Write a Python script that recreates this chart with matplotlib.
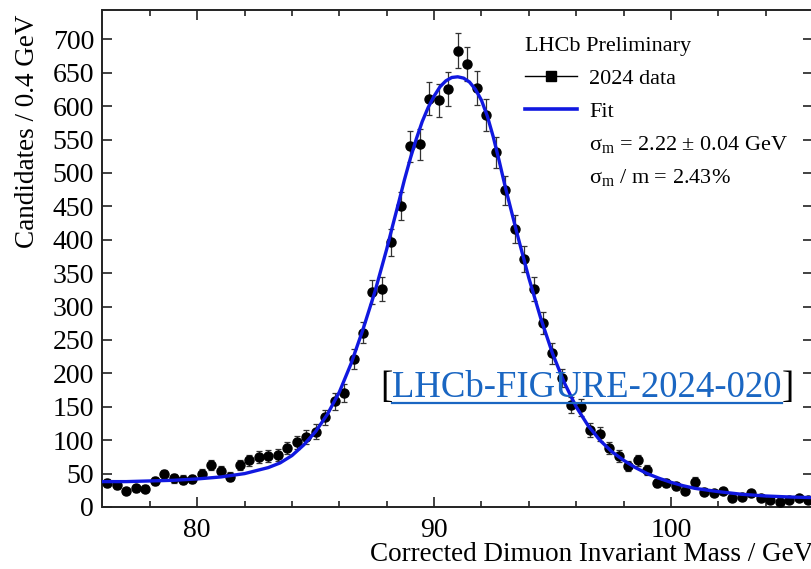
import numpy as np
import matplotlib
matplotlib.use("Agg")
import matplotlib.pyplot as plt
from matplotlib.lines import Line2D

plt.rcParams['font.family'] = ['Liberation Serif', 'DejaVu Serif']
plt.rcParams['mathtext.fontset'] = 'custom'
plt.rcParams['mathtext.rm'] = 'Liberation Serif'
plt.rcParams['mathtext.it'] = 'Liberation Serif:italic'

# ---- data ----
bin_width = 0.4
mass_lo = 76.0
counts = [36, 33, 24, 28, 27, 39, 49, 43, 41, 42,
          50, 63, 54, 45, 63, 70, 75, 76, 78, 88,
          97, 105, 113, 134, 158,
          171, 221, 261, 322, 326, 396, 451, 540, 543, 611,
          609, 626, 683, 663, 627, 587, 531, 474, 416, 371,
          326, 275, 230, 193, 153,
          149, 115, 110, 88, 76, 61, 70, 55, 36, 36,
          31, 24, 38, 23, 21, 24, 13, 15, 21, 14,
          10, 8, 10, 13, 10]
errors = [6.0, 5.7, 4.9, 5.3, 5.2, 6.2, 7.0, 6.6, 6.4, 6.5,
          7.1, 7.9, 7.3, 6.7, 7.9, 8.4, 8.7, 8.7, 8.8, 9.4,
          9.8, 10.2, 10.6, 11.6, 12.6,
          13.1, 14.9, 16.2, 17.9, 18.1, 19.9, 21.2, 23.2, 23.3, 24.7,
          24.7, 25.0, 26.1, 25.7, 25.0, 24.2, 23.0, 21.8, 20.4, 19.3,
          18.1, 16.6, 15.2, 13.9, 12.4,
          12.2, 10.7, 10.5, 9.4, 8.7, 7.8, 8.4, 7.4, 6.0, 6.0,
          5.6, 4.9, 6.2, 4.8, 4.6, 4.9, 3.6, 3.9, 4.6, 3.7,
          3.2, 2.8, 3.2, 3.6, 3.2]
mass = mass_lo + bin_width * (np.arange(len(counts)) + 0.5)

fit_x = [76.0, 77.0, 78.0, 79.0, 80.0, 81.0, 82.0, 83.0, 83.5, 84.0,
         84.5, 85.0, 85.5, 86.0, 86.5, 87.0, 87.5, 88.0, 88.25, 88.5,
         88.75, 89.0, 89.25, 89.5, 89.75, 90.0, 90.25, 90.5, 90.75, 91.0,
         91.25, 91.5, 91.75, 92.0, 92.25, 92.5, 92.75, 93.0, 93.25, 93.5,
         94.0, 94.5, 95.0, 95.5, 96.0, 96.5, 97.0, 97.5, 98.0, 98.5,
         99.0, 99.5, 100.0, 100.5, 101.0, 102.0, 103.0, 104.0, 105.0, 106.0]
fit_y = [38, 38, 39, 40, 42, 45, 50, 59, 66, 77,
         93, 113, 139, 172, 215, 266, 322, 386, 421, 455,
         490, 522, 551, 577, 598, 615, 629, 638, 643, 644,
         642, 636, 625, 609, 585, 554, 518, 480, 445, 410,
         343, 283, 230, 186, 150, 122, 100, 83, 70, 59,
         50, 43, 37, 32, 28, 23, 19, 16.5, 15, 14]

x_ticks = [80, 90, 100]
y_ticks = [0, 50, 100, 150, 200, 250, 300, 350, 400, 450, 500, 550, 600, 650, 700]

# ---- figure ----
fig = plt.figure(figsize=(8.12, 5.69), dpi=100)
ax = fig.add_axes([102.5 / 812, 1 - 507 / 569, (813 - 102.5) / 812, (507 - 10) / 569])

ax.errorbar(mass, counts, yerr=errors, fmt='o', color='black', ms=6.5,
            ecolor='#333333', elinewidth=0.9, capsize=2.5, capthick=0.9, zorder=3)
ax.plot(fit_x, fit_y, color='#1018e0', lw=2.4, zorder=4)

ax.set_xlim(76, 106)
ax.set_ylim(0, 744)
ax.set_xticks(x_ticks)
ax.set_xticks(np.arange(78, 106, 2), minor=True)
ax.set_yticks(y_ticks)
ax.tick_params(axis='both', which='both', direction='in', top=True, right=True,
               labelsize=20, width=1.2, color='#222222')
ax.tick_params(axis='both', which='major', length=7)
ax.tick_params(axis='x', which='major', pad=8)
ax.tick_params(axis='y', which='major', pad=6)
ax.tick_params(axis='x', which='minor', length=4)
for s in ax.spines.values():
    s.set_linewidth(1.4)
    s.set_color('#222222')

ax.set_ylabel('Candidates / 0.4 GeV', fontsize=19.5)
ax.yaxis.set_label_coords(-0.088, 0.99, transform=ax.transAxes)
ax.yaxis.label.set_ha('right')
ax.set_xlabel('Corrected Dimuon Invariant Mass / GeV', fontsize=19.5)
ax.xaxis.set_label_coords(1.0, -0.071)
ax.xaxis.label.set_ha('right')

# legend
h_data = Line2D([], [], color='black', lw=1, marker='s', ms=7)
h_fit = Line2D([], [], color='#1018e0', lw=2.6)
h_none = Line2D([], [], color='none', lw=0)
leg = ax.legend([h_data, h_fit, h_none, h_none],
                ['2024 data', 'Fit',
                 r'$\mathrm{σ}_{\mathrm{m}}$ = 2.22 ± 0.04 GeV',
                 r'$\mathrm{σ}_{\mathrm{m}}$ / m = 2.43%'],
                title='LHCb Preliminary', loc='upper left',
                bbox_to_anchor=(0.594, 0.945), frameon=False, fontsize=16,
                title_fontsize=16, handlelength=2.35, handletextpad=0.55,
                labelspacing=0.55, borderpad=0, borderaxespad=0)
leg._legend_box.align = 'left'

# watermark with underline
blue = '#1a66c2'
wm = fig.text(587 / 812, 1 - 397 / 569, 'LHCb-FIGURE-2024-020', color=blue,
              fontsize=26.5, ha='center', va='baseline')
fig.canvas.draw()
r = fig.canvas.get_renderer()
bb = wm.get_window_extent(r).transformed(fig.transFigure.inverted())
fig.text(bb.x0, 1 - 397 / 569, '[', color='black', fontsize=26.5, ha='right', va='baseline')
fig.text(bb.x1, 1 - 397 / 569, ']', color='black', fontsize=26.5, ha='left', va='baseline')
fig.add_artist(Line2D([bb.x0, bb.x1], [1 - 403 / 569] * 2, transform=fig.transFigure,
                      color=blue, lw=1.6))

fig.savefig('out.png', dpi=100)
